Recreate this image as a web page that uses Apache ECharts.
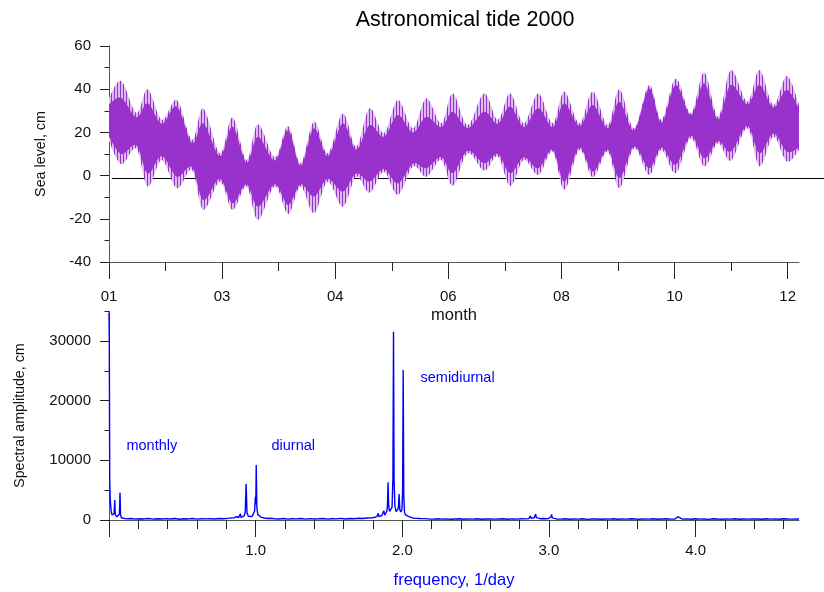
<!DOCTYPE html>
<html>
<head>
<meta charset="utf-8">
<script src="https://cdn.jsdelivr.net/npm/echarts@6/dist/echarts.min.js"></script>
<style>
  html, body { margin: 0; padding: 0; background: #fff; }
  #chart { width: 824px; height: 592px; }
</style>
</head>
<body>
<div id="chart"></div>
<script>
// ---- Sea level 2000: envelope of the hourly tide, alternating spring maxima and neap necks ----
// day of year counted from 1 January 2000
const tideDay = [0, 6.5, 14.5, 20.5, 28, 36, 44, 50, 58.8, 65.5, 72.9, 79, 88, 95, 101.6, 108.7, 116, 124,
  131.1, 138.2, 145.8, 153.2, 161.2, 168.3, 176.2, 182.3, 190.2, 199, 206.2, 212.8, 220, 227.7, 235.3,
  241.5, 249.5, 256.6, 264.5, 270.7, 278.5, 286.5, 293, 300.6, 308.6, 315.7, 323, 329.8, 338.6, 345,
  352.4, 359.5, 366];
// highest high water / lowest low water, cm
const tideHighOuter = [36, 43.8, 29, 40, 25.8, 35, 16.5, 31.2, 10.3, 27, 7.2, 23.8, 8.5, 23, 5.7, 25, 10.3,
  28.8, 13.4, 31.2, 19.6, 35, 21.9, 35.8, 24.2, 38.1, 23.4, 38.1, 25.8, 38.1, 24.2, 38.1, 24.2, 38.9, 24.2,
  38.9, 23.4, 40, 21.9, 42, 25.8, 45, 28.9, 47.8, 27.3, 48.9, 34.2, 48.9, 32.7, 46.1, 32.7];
const tideLowOuter = [16, 5.2, 12.5, -5.1, 7.2, -5.9, 2.6, -15.9, -2.8, -15.9, -5.1, -20.5, -5, -17.8, -5.1,
  -17.4, -2.8, -14.4, -0.5, -7.9, 1.8, -9, 4.2, -0.5, 7.2, -4.8, 10.3, 2.3, 8.8, -4.8, 7.2, 0.3, 11.1, -6.6,
  11.9, -0.8, 11.1, -5.9, 12.6, 0.3, 11.9, 1.1, 17.3, 4.2, 15, 6.9, 21.9, 4.2, 18, 6.5, 11.9];
// lower high water / higher low water (diurnal inequality), cm
const tideHighInner = [33, 36, 27, 33.5, 24, 32, 15, 24.2, 9, 22.7, 6, 18, 7, 21.1, 4.5, 21.9, 9, 24.2, 12,
  23.4, 18, 28, 20, 27.3, 22.5, 29.6, 22, 29.6, 24, 32, 22.5, 31.2, 22.5, 33.5, 23, 32.7, 22, 34.2, 21, 40.4,
  24.5, 42, 28, 42.7, 26, 42, 33, 42, 31.5, 39.7, 31];
const tideLowInner = [18, 10, 14, 1, 9, -0.5, 4, -11.3, -1.5, -12.8, -4, -14.4, -4, -13.6, -4, -9.7, -1.5,
  -7.4, 1, -2.8, 3, -3.6, 5.5, 3.4, 8.5, 1.1, 11.5, 5.7, 10, 1.1, 8.5, 3.4, 12, -2.8, 13, 1.8, 12, -1.2, 13.5,
  3.4, 13, 5, 18.5, 8, 16, 11.1, 23, 10.3, 19.5, 11.1, 13];
const datumLevel = -1.2;
const monthTickDays = [0, 60, 120, 180, 240, 300, 360];
const monthTickLabels = ['01', '03', '04', '06', '08', '10', '12'];
const monthMinorDays = [30, 90, 150, 210, 270, 330];

// ---- Amplitude spectrum: [frequency 1/day, amplitude cm] ----
const longPeriodBand = [[0, 34800], [0.002, 30000], [0.005, 6700], [0.008, 3600], [0.012, 2230], [0.016, 1300],
  [0.021, 840], [0.026, 650], [0.031, 700], [0.035, 1100], [0.039, 3350], [0.043, 900], [0.048, 620],
  [0.054, 520], [0.060, 480], [0.066, 560], [0.071, 1000], [0.075, 4580], [0.079, 900], [0.084, 380]];
const backgroundLow = [[0.09, 280], [0.12, 190], [0.15, 240], [0.18, 150], [0.21, 220], [0.24, 180], [0.27, 260],
  [0.30, 140], [0.33, 210], [0.36, 170], [0.39, 230], [0.42, 160], [0.45, 250], [0.48, 130], [0.51, 200],
  [0.54, 180], [0.57, 240], [0.60, 150], [0.63, 210], [0.66, 190], [0.69, 230], [0.72, 160], [0.75, 260],
  [0.78, 200], [0.81, 280], [0.84, 350]];
const diurnalBand = [[0.855, 380], [0.863, 420], [0.869, 550], [0.875, 330], [0.885, 420], [0.891, 600],
  [0.896, 1060], [0.901, 420], [0.912, 520], [0.922, 700], [0.929, 1300], [0.935, 6090], [0.941, 1200],
  [0.950, 620], [0.962, 520], [0.975, 560], [0.986, 780], [0.993, 1500], [0.998, 3900], [1.001, 2600],
  [1.004, 9220], [1.008, 2200], [1.015, 900], [1.025, 600], [1.040, 430], [1.060, 330], [1.080, 260], [1.100, 300]];
const backgroundMid = [[1.13, 220], [1.16, 160], [1.19, 250], [1.22, 140], [1.25, 210], [1.28, 190], [1.31, 240],
  [1.34, 150], [1.37, 230], [1.40, 170], [1.43, 200], [1.46, 260], [1.49, 150], [1.52, 220], [1.55, 190],
  [1.58, 280], [1.61, 170], [1.64, 240], [1.67, 210], [1.70, 300], [1.73, 250], [1.76, 330], [1.79, 380]];
const semidiurnalBand = [[1.805, 420], [1.815, 480], [1.826, 560], [1.832, 700], [1.836, 1120], [1.840, 560],
  [1.850, 620], [1.860, 750], [1.868, 950], [1.874, 1560], [1.880, 800], [1.888, 900], [1.895, 1500],
  [1.899, 2600], [1.903, 6310], [1.907, 2400], [1.913, 1450], [1.922, 1400], [1.930, 2100], [1.936, 7000],
  [1.940, 31560], [1.944, 6500], [1.950, 2200], [1.958, 1400], [1.966, 1500], [1.973, 2000], [1.978, 4360],
  [1.983, 1700], [1.990, 1340], [1.997, 1700], [2.002, 4500], [2.006, 25140], [2.010, 4200], [2.015, 1300],
  [2.022, 850], [2.032, 650], [2.045, 560], [2.060, 450], [2.075, 300], [2.095, 280], [2.12, 250]];
const backgroundHigh = [[2.15, 230], [2.18, 180], [2.21, 150], [2.24, 210], [2.27, 140], [2.30, 190], [2.33, 120],
  [2.36, 170], [2.39, 200], [2.42, 130], [2.45, 180], [2.48, 150], [2.51, 210], [2.54, 120], [2.57, 160],
  [2.60, 190], [2.63, 140], [2.66, 170], [2.69, 200], [2.72, 130], [2.75, 180], [2.78, 150], [2.81, 220],
  [2.84, 190]];
const terdiurnalBand = [[2.862, 230], [2.869, 380], [2.874, 670], [2.879, 280], [2.890, 260], [2.900, 380],
  [2.905, 560], [2.909, 1000], [2.914, 400], [2.925, 300], [2.940, 220], [2.960, 260], [2.980, 200],
  [2.997, 240], [3.010, 380], [3.015, 600], [3.018, 950], [3.022, 350], [3.035, 220], [3.05, 180]];
const backgroundTail = [[3.08, 150], [3.11, 200], [3.14, 120], [3.17, 170], [3.20, 140], [3.23, 210], [3.26, 110],
  [3.29, 160], [3.32, 190], [3.35, 130], [3.38, 170], [3.41, 150], [3.44, 200], [3.47, 120], [3.50, 180],
  [3.53, 140], [3.56, 210], [3.59, 160], [3.62, 130], [3.65, 190], [3.68, 150], [3.71, 220], [3.74, 130],
  [3.77, 170], [3.80, 200], [3.83, 140], [3.86, 180], [3.872, 200], [3.878, 550], [3.884, 220],
  [3.91, 150], [3.94, 190], [3.97, 120], [4.00, 210], [4.03, 140], [4.06, 170], [4.09, 110], [4.12, 200],
  [4.15, 160], [4.18, 130], [4.21, 180], [4.24, 150], [4.27, 220], [4.30, 120], [4.33, 170], [4.36, 140],
  [4.39, 190], [4.42, 160], [4.45, 130], [4.48, 210], [4.51, 150], [4.54, 180], [4.57, 120], [4.60, 200],
  [4.63, 160], [4.66, 140], [4.69, 190], [4.705, 160]];
const freqMax = 4.705;
const freqTicks = [0, 1, 2, 3, 4];
const freqLabelTicks = [1, 2, 3, 4];
const freqMinorTicks = [0.2, 0.4, 0.6, 0.8, 1.2, 1.4, 1.6, 1.8, 2.2, 2.4, 2.6, 2.8, 3.2, 3.4, 3.6, 3.8, 4.2, 4.4, 4.6];
const ampTicks = [0, 10000, 20000, 30000];
const ampMinorTicks = [5000, 15000, 25000, 35000];
const ampMax = 35000;
const bandNames = ['monthly', 'diurnal', 'semidiurnal'];
const bandNameAnchors = [[0.119, 12440], [1.108, 12440], [2.124, 23880]];

const FONT = "'Liberation Sans', Arial, Helvetica, sans-serif";
const ORCHID = '#9932cc';
const BLUE = '#0000ff';

// vertical hatching for the diurnal-inequality fringe of the band
function fringePattern() {
  const c = document.createElement('canvas');
  c.width = 3; c.height = 2;
  const g = c.getContext('2d');
  g.fillStyle = '#dcbcec';
  g.fillRect(0, 0, 3, 2);
  g.fillStyle = ORCHID;
  g.fillRect(0, 0, 1, 2);
  return c;
}
const FRINGE = { image: fringePattern(), repeat: 'repeat' };

// Catmull-Rom curve through pixel points, flattened for a polygon outline
function smoothCurve(pts) {
  const k = 1 / 6, steps = 10, out = [pts[0]];
  for (let i = 0; i < pts.length - 1; i++) {
    const p0 = pts[Math.max(i - 1, 0)], p1 = pts[i], p2 = pts[i + 1], p3 = pts[Math.min(i + 2, pts.length - 1)];
    const c1 = [p1[0] + (p2[0] - p0[0]) * k, p1[1] + (p2[1] - p0[1]) * k];
    const c2 = [p2[0] - (p3[0] - p1[0]) * k, p2[1] - (p3[1] - p1[1]) * k];
    for (let s = 1; s <= steps; s++) {
      const t = s / steps, u = 1 - t;
      const a = u * u * u, b = 3 * u * u * t, c = 3 * u * t * t, d = t * t * t;
      out.push([a * p1[0] + b * c1[0] + c * c2[0] + d * p2[0], a * p1[1] + b * c1[1] + c * c2[1] + d * p2[1]]);
    }
  }
  return out;
}

// band between a high and a low envelope, in pixel space
function bandPolygon(api, hi, lo) {
  const top = smoothCurve(tideDay.map((d, i) => api.coord([d, hi[i]])));
  const bottom = smoothCurve(tideDay.map((d, i) => api.coord([d, lo[i]])));
  return top.concat(bottom.reverse());
}

const spectrum = [].concat(longPeriodBand, backgroundLow, diurnalBand, backgroundMid,
  semidiurnalBand, backgroundHigh, terdiurnalBand, backgroundTail);

const axisLineStyle = { color: '#555', width: 1 };
const tickLineStyle = { color: '#222', width: 1 };
const labelStyle = { fontSize: 15, color: '#111', fontFamily: FONT };

const chart = echarts.init(document.getElementById('chart'), null, { renderer: 'canvas' });

chart.setOption({
  animation: false,
  backgroundColor: '#fff',
  grid: [
    { left: 109, right: 25, top: 46, height: 216 },
    { left: 109, right: 25, top: 311.2, height: 208.8 }
  ],
  xAxis: [
    { // months, major ticks and labels
      type: 'value', gridIndex: 0, min: 0, max: 366, position: 'bottom',
      axisLine: { onZero: false, lineStyle: axisLineStyle },
      axisTick: { length: 17, lineStyle: tickLineStyle, customValues: monthTickDays },
      axisLabel: Object.assign({ margin: 27, customValues: monthTickDays,
        formatter: (v) => monthTickLabels[monthTickDays.indexOf(v)] }, labelStyle),
      splitLine: { show: false },
      name: 'month', nameLocation: 'middle', nameGap: 45,
      nameTextStyle: { fontSize: 16.5, color: '#111', fontFamily: FONT }
    },
    { // months, intermediate ticks
      type: 'value', gridIndex: 0, min: 0, max: 366, position: 'bottom', offset: 0,
      axisLine: { show: false, onZero: false },
      axisTick: { length: 9, lineStyle: tickLineStyle, customValues: monthMinorDays },
      axisLabel: { show: false }, splitLine: { show: false }
    },
    { // frequency, major ticks and labels
      type: 'value', gridIndex: 1, min: 0, max: freqMax, position: 'bottom',
      axisLine: { onZero: false, lineStyle: axisLineStyle },
      axisTick: { length: 17, lineStyle: tickLineStyle, customValues: freqTicks },
      axisLabel: Object.assign({ margin: 23, customValues: freqLabelTicks,
        formatter: (v) => v.toFixed(1) }, labelStyle),
      splitLine: { show: false },
      name: 'frequency, 1/day', nameLocation: 'middle', nameGap: 52,
      nameTextStyle: { fontSize: 16.5, color: BLUE, fontFamily: FONT }
    },
    { // frequency, minor ticks
      type: 'value', gridIndex: 1, min: 0, max: freqMax, position: 'bottom', offset: 0,
      axisLine: { show: false, onZero: false },
      axisTick: { length: 9, lineStyle: tickLineStyle, customValues: freqMinorTicks },
      axisLabel: { show: false }, splitLine: { show: false }
    }
  ],
  yAxis: [
    {
      type: 'value', gridIndex: 0, min: -40, max: 60, interval: 20,
      axisLine: { show: true, onZero: false, lineStyle: axisLineStyle },
      axisTick: { show: true, length: 9, lineStyle: tickLineStyle },
      minorTick: { show: true, splitNumber: 2, length: 4.5, lineStyle: tickLineStyle },
      axisLabel: Object.assign({ margin: 18 }, labelStyle),
      splitLine: { show: false },
      name: 'Sea level, cm', nameLocation: 'middle', nameGap: 61, nameRotate: 90,
      nameTextStyle: { fontSize: 14.3, color: '#111', fontFamily: FONT }
    },
    {
      type: 'value', gridIndex: 1, min: 0, max: ampMax,
      axisLine: { show: true, onZero: false, lineStyle: axisLineStyle },
      axisTick: { show: true, length: 9, lineStyle: tickLineStyle, customValues: ampTicks },
      axisLabel: Object.assign({ margin: 18, customValues: ampTicks, formatter: (v) => String(v) }, labelStyle),
      splitLine: { show: false },
      name: 'Spectral amplitude, cm', nameLocation: 'middle', nameGap: 82, nameRotate: 90,
      nameTextStyle: { fontSize: 14.2, color: '#111', fontFamily: FONT }
    },
    {
      type: 'value', gridIndex: 1, min: 0, max: ampMax, position: 'left', offset: 0,
      axisLine: { show: false, onZero: false },
      axisTick: { show: true, length: 4.5, lineStyle: tickLineStyle, customValues: ampMinorTicks },
      axisLabel: { show: false }, splitLine: { show: false }
    }
  ],
  series: [
    { // tidal range: hatched full range with the solid core on top
      type: 'custom', xAxisIndex: 0, yAxisIndex: 0, coordinateSystem: 'cartesian2d',
      data: [[tideDay[0], tideHighOuter[0]]], clip: true, silent: true, z: 3,
      renderItem: (params, api) => ({
        type: 'group',
        children: [
          { type: 'polygon', shape: { points: bandPolygon(api, tideHighOuter, tideLowOuter) },
            style: { fill: FRINGE, stroke: null } },
          { type: 'polygon', shape: { points: bandPolygon(api, tideHighInner, tideLowInner) },
            style: { fill: ORCHID, stroke: null } }
        ]
      })
    },
    { // amplitude spectrum
      type: 'line', xAxisIndex: 2, yAxisIndex: 1, data: spectrum,
      symbol: 'none', showSymbol: false, lineStyle: { color: BLUE, width: 1.4 }, silent: true, z: 3
    }
  ]
});

// datum line, title and band captions
const finderTop = { xAxisIndex: 0, yAxisIndex: 0 };
const finderSpec = { xAxisIndex: 2, yAxisIndex: 1 };
const datumStart = chart.convertToPixel(finderTop, [1.5, datumLevel]);
const datumY = Math.round(datumStart[1]) + 0.5;
const graphics = [
  {
    type: 'line', z: 0, silent: true,
    shape: { x1: datumStart[0], y1: datumY, x2: chart.getWidth(), y2: datumY },
    style: { stroke: '#000', lineWidth: 1 }
  },
  {
    type: 'text', x: 465, y: 20, silent: true,
    style: { text: 'Astronomical tide 2000', font: '21.5px ' + FONT, fill: '#000',
      align: 'center', verticalAlign: 'middle' }
  }
];
bandNames.forEach((name, i) => {
  const p = chart.convertToPixel(finderSpec, bandNameAnchors[i]);
  graphics.push({
    type: 'text', x: p[0], y: p[1], silent: true,
    style: { text: name, font: '14.5px ' + FONT, fill: BLUE, align: 'left', verticalAlign: 'middle' }
  });
});
chart.setOption({ graphic: graphics });
</script>
</body>
</html>
